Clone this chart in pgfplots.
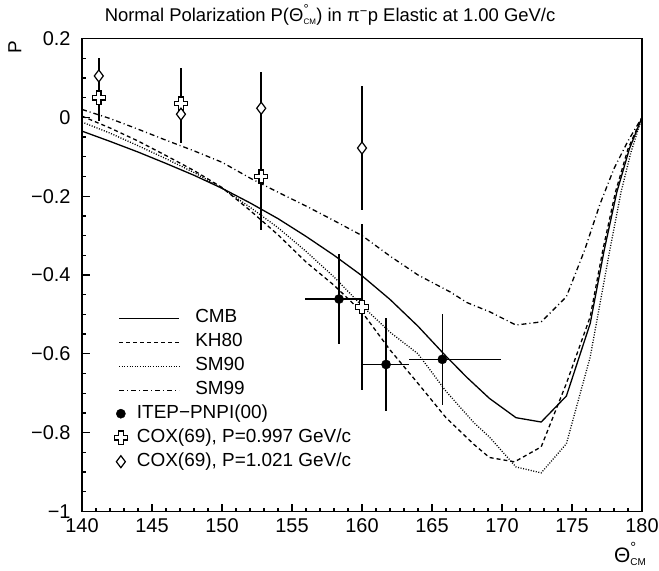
\documentclass[border=0pt]{standalone}
\usepackage{fontspec}
\setmainfont{Liberation Sans}
\usepackage{pgfplots}
\pgfplotsset{compat=1.18}

% open fat cross (PAW style)
\pgfdeclareplotmark{fatcross}{%
  \pgfpathmoveto{\pgfpoint{-2.3bp}{6.6bp}}%
  \pgfpathlineto{\pgfpoint{2.3bp}{6.6bp}}%
  \pgfpathlineto{\pgfpoint{2.3bp}{2.3bp}}%
  \pgfpathlineto{\pgfpoint{6.6bp}{2.3bp}}%
  \pgfpathlineto{\pgfpoint{6.6bp}{-2.3bp}}%
  \pgfpathlineto{\pgfpoint{2.3bp}{-2.3bp}}%
  \pgfpathlineto{\pgfpoint{2.3bp}{-6.6bp}}%
  \pgfpathlineto{\pgfpoint{-2.3bp}{-6.6bp}}%
  \pgfpathlineto{\pgfpoint{-2.3bp}{-2.3bp}}%
  \pgfpathlineto{\pgfpoint{-6.6bp}{-2.3bp}}%
  \pgfpathlineto{\pgfpoint{-6.6bp}{2.3bp}}%
  \pgfpathlineto{\pgfpoint{-2.3bp}{2.3bp}}%
  \pgfpathclose
  \pgfusepathqfillstroke}

\newcommand{\thcm}[1]{Θ\rlap{\raisebox{0.1em}{\textsuperscript{°}}}\textsubscript{\fontsize{#1}{#1}\selectfont CM}}

\pgfplotsset{
  base/.style={scale only axis, width=560bp, height=473bp,
    xmin=140, xmax=180, ymin=-1, ymax=0.2},
  errs/.style={draw=none, mark=none, forget plot,
    error bars/.cd, x dir=both, y dir=both, x explicit, y explicit,
    error mark=none, error bar style={draw=black, solid, line width=1.6bp}},
}

\begin{document}
\begin{tikzpicture}
\begin{axis}[base, name=ax,
  axis line style={line width=1.5bp},
  tick style={line width=1.3bp, black},
  tick align=inside, xtick pos=bottom, ytick pos=left,
  major tick length=8bp, minor tick length=4bp,
  xtick={140,145,...,180}, minor x tick num=4,
  ytick={-1,-0.8,-0.6,-0.4,-0.2,0,0.2}, minor y tick num=3,
  yticklabels={−1,−0.8,−0.6,−0.4,−0.2,0,0.2},
  /pgf/number format/assume math mode=true,
  ticklabel style={font=\fontsize{20}{23}\selectfont},
  xticklabel style={yshift=-4bp},
  yticklabel style={xshift=-8bp},
  title={Normal Polarization P(\thcm{8}) in π\textsuperscript{−}p Elastic at 1.00 GeV/c},
  title style={font=\fontsize{18.5}{22}\selectfont, at={(axis description cs:0.443,1.0)}, anchor=base, yshift=11bp, inner sep=0pt},
  ylabel={P}, ylabel style={font=\fontsize{19}{22}\selectfont, at={(axis description cs:-0.12,0.981)}, anchor=center},
  xlabel={\thcm{10}},
  xlabel style={font=\fontsize{21}{24}\selectfont, at={(axis description cs:0.979,-0.09)}, anchor=center},
  legend cell align=left,
  legend image code/.code={\draw[#1] (0bp,0bp) -- (60bp,0bp);},
  legend style={draw=none, fill=none, inner sep=0pt, font=\fontsize{19}{22}\selectfont,
    nodes={text height=13bp, text depth=4bp, inner sep=1.5bp}, row sep=4bp, column sep=14bp,
    at={(axis cs:142.59,-0.484)}, anchor=north west},
  every axis plot/.append style={line width=1.3bp, black},
]
% CMB
\addplot[solid] coordinates {
 (140,-0.035) (142,-0.061) (144,-0.088) (146,-0.117) (148,-0.147) (150,-0.180)
 (152,-0.217) (154,-0.257) (156,-0.302) (158,-0.350) (160,-0.402) (162,-0.462)
 (164,-0.530) (166,-0.606) (167.5,-0.660) (169.1,-0.713) (171,-0.762) (172.8,-0.773)
 (174.6,-0.707) (176.3,-0.523) (177.3,-0.337) (178.2,-0.190) (179.1,-0.080) (180,0)};
\addlegendentry{CMB}
% KH80
\addplot[dash pattern=on 4bp off 3bp] coordinates {
 (140,0.003) (142,-0.027) (144,-0.060) (146,-0.097) (148,-0.135) (150,-0.178)
 (152,-0.236) (154,-0.298) (156,-0.367) (158,-0.426) (160,-0.494) (162,-0.590)
 (164,-0.675) (166,-0.762) (168,-0.830) (169.1,-0.863) (170.9,-0.874) (172.8,-0.836)
 (174.6,-0.675) (176.3,-0.506) (177.2,-0.337) (178.1,-0.190) (179,-0.080) (180,0)};
\addlegendentry{KH80}
% SM90
\addplot[dash pattern=on 1bp off 1.6bp] coordinates {
 (140,-0.012) (142,-0.040) (144,-0.072) (146,-0.105) (148,-0.140) (150,-0.180)
 (152,-0.228) (154,-0.280) (156,-0.340) (158,-0.405) (160,-0.478) (162,-0.545)
 (164,-0.600) (166,-0.695) (168,-0.775) (169.1,-0.811) (171,-0.887) (172.8,-0.902)
 (174.6,-0.828) (176.3,-0.608) (177.7,-0.337) (178.5,-0.190) (179.2,-0.090) (180,0)};
\addlegendentry{SM90}
% SM99
\addplot[dash pattern=on 5bp off 3bp on 1bp off 3bp] coordinates {
 (140,0.020) (142,-0.003) (144,-0.030) (146,-0.058) (148,-0.085) (150,-0.114)
 (152,-0.154) (154,-0.190) (156,-0.225) (158,-0.262) (160,-0.300) (162,-0.352)
 (164,-0.400) (166.3,-0.443) (167.5,-0.470) (169.1,-0.493) (171,-0.527) (172.8,-0.519)
 (174.6,-0.455) (175.9,-0.337) (177,-0.220) (178,-0.130) (179,-0.060) (180,0)};
\addlegendentry{SM99}
\end{axis}

\begin{axis}[base, hide axis,
  legend cell align=left,
  legend image code/.code={\draw[#1] plot coordinates {(0bp,0bp)};},
  legend style={draw=none, fill=none, inner sep=0pt, font=\fontsize{19}{22}\selectfont,
    nodes={text height=13bp, text depth=4bp, inner sep=1.5bp}, row sep=4bp, column sep=8bp,
    at={(axis cs:142.29,-0.726)}, anchor=north west},
]
% error bars first
\addplot[errs] coordinates {
 (158.36,-0.461) += (1.62,0.114) -= (2.43,0.114)
 (161.72,-0.627) += (1.66,0.117) -= (1.66,0.117)
 (165.74,-0.614) += (4.19,0.116) -= (2.36,0.116)};
\addplot[errs] coordinates {
 (141.2,0.050) +- (0,0.060)
 (147.07,0.035) +- (0,0.090)
 (152.8,-0.150) +- (0,0.135)
 (160.0,-0.481) +- (0,0.210)};
\addplot[errs] coordinates {
 (141.2,0.105) +- (0,0.046)
 (147.07,0.008) +- (0,0.072)
 (152.8,0.023) +- (0,0.093)
 (160.0,-0.078) +- (0,0.157)};
% markers
\addplot[only marks, mark=*, mark size=4.6bp, black] coordinates {
 (158.36,-0.461) (161.72,-0.627) (165.74,-0.614)};
\addlegendentry{ITEP−PNPI(00)}
\addplot[only marks, mark=fatcross, black, line width=1.3bp, fill=white, mark options={fill=white}] coordinates {
 (141.2,0.050) (147.07,0.035) (152.8,-0.150) (160.0,-0.481)};
\addlegendentry{COX(69), P=0.997 GeV/c}
\addplot[only marks, mark=diamond*, mark size=6bp, black, line width=1.2bp, mark options={fill=white}] coordinates {
 (141.2,0.105) (147.07,0.008) (152.8,0.023) (160.0,-0.078)};
\addlegendentry{COX(69), P=1.021 GeV/c}
\end{axis}

\pgfresetboundingbox
\path[use as bounding box] ([xshift=-82bp,yshift=-59bp]ax.south west) rectangle ([xshift=17bp,yshift=38.5bp]ax.north east);
\end{tikzpicture}
\end{document}
